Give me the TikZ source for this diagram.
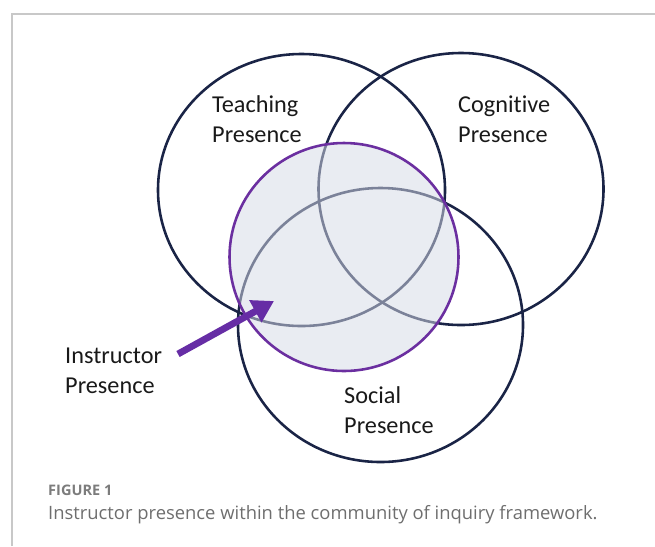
\documentclass[tikz,border=0pt]{standalone}
\usepackage{xcolor}
\usepackage{fontspec}
\usepackage{tikz}
\usetikzlibrary{positioning, arrows.meta}
\setmainfont{Carlito}[Ligatures=NoCommon]
\newfontfamily\capfont{Open Sans}
\definecolor{navy}{HTML}{1A2446}
\definecolor{violet}{HTML}{6B2FA0}
\definecolor{haze}{RGB}{213,218,230}
\definecolor{framegray}{HTML}{C8C8C8}
\definecolor{capgray}{HTML}{6E6E6E}

\begin{document}
\begin{tikzpicture}[
  x=0.03cm, y=-0.03cm,
  ring/.style={draw=navy, line width=2.2pt},
  instr/.style={draw=violet, line width=2.2pt, fill=haze, fill opacity=0.52},
  label/.style={align=left, anchor=base west, inner sep=0pt, text=black!90,
    font=\fontsize{20.7}{24.8}\selectfont},
  pointer/.style={-{Triangle[length=0.64cm, width=0.72cm]}, draw=violet!95!blue, line width=5.8pt},
  frame/.style={draw=framegray, line width=0.9pt}
]
\useasboundingbox (0,0) rectangle (655,546);

% Frame
\draw[frame] (12,546) -- (12,14) -- (655,14);

% Circles
\draw[ring] (301.5,190) ellipse [x radius=143.5, y radius=136];
\draw[ring] (461,189) ellipse [x radius=142.5, y radius=136];
\draw[ring] (380.5,325) ellipse [x radius=142.5, y radius=137];
\draw[instr] (344,257) ellipse [x radius=114.5, y radius=114];

% Nodes (base = last line)
\node[label] (teach) at (212,142) {Teaching\\Presence};
\node[label] (cog) at (458,142) {Cognitive\\Presence};
\node[label] (social) at (344,433) {Social\\Presence};
\node[label] (instructor) at (65,393) {Instructor\\Presence};

% Connections
\coordinate (tail) at (178,354);
\coordinate (tip) at (274,301);
\draw[pointer] (tail) -- (tip);

% Caption
\node[anchor=base west, inner sep=0pt, text=capgray!90, font=\capfont\bfseries\fontsize{12.4}{14}\selectfont] (fig) at (48,495) {FIGURE 1};
\node[anchor=base west, inner sep=0pt, text=capgray, font=\capfont\fontsize{15.7}{18}\selectfont] (caption) at (48,519) {Instructor presence within the community of inquiry framework.};

\end{tikzpicture}
\end{document}
